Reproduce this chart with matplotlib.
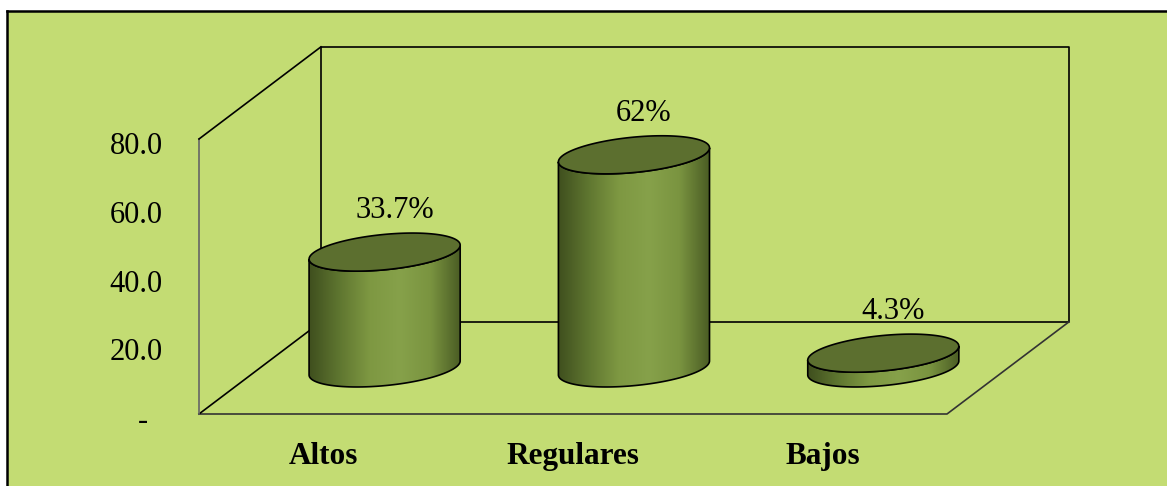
import numpy as np
import matplotlib.pyplot as plt
import matplotlib.transforms as mtransforms
from matplotlib.patches import Polygon, Rectangle
from matplotlib.lines import Line2D
from matplotlib.colors import LinearSegmentedColormap

plt.rcParams['font.family'] = ['Liberation Serif', 'DejaVu Serif']

# -------- Data --------
categories = ["Altos", "Regulares", "Bajos"]
values = [33.7, 62.0, 4.3]
value_labels = ["33.7%", "62%", "4.3%"]
ytick_values = [0, 20, 40, 60, 80]
ytick_labels = ["-  ", "20.0", "40.0", "60.0", "80.0"]

# -------- Style --------
bg = "#c3dc73"
top_color = "#5c6f2f"
side_cmap = LinearSegmentedColormap.from_list(
    "olive", ["#3f4f1e", "#5f7630", "#7e9842", "#86a14a", "#7a9440", "#4a5c24"])
DX, DY = 0.489, 26.8          # depth of the 3d box (category units, value units)
HALF_W = 0.303                # cylinder half width
ELL_B, ELL_C = 5.15, 2.04     # ellipse half height and tilt

W, H = 1167, 486
fig = plt.figure(figsize=(W / 100, H / 100), dpi=100, facecolor="white")

# green panel with border on top/left
fig.patches.append(Rectangle((7 / W, 0), 1 - 7 / W, 1 - 11 / H, transform=fig.transFigure,
                             facecolor=bg, edgecolor="none", zorder=-2))
fig.lines.append(Line2D([7 / W, 7 / W], [0, 1 - 11 / H], transform=fig.transFigure,
                        color="black", lw=1.8, zorder=-1))
fig.lines.append(Line2D([7 / W, 1], [1 - 11 / H, 1 - 11 / H], transform=fig.transFigure,
                        color="black", lw=1.8, zorder=-1))

ax = fig.add_axes([199 / W, 72 / H, 748 / W, 275 / H])
ax.set_zorder(1)
ax.set_facecolor("none")
for s in ax.spines.values():
    s.set_visible(False)

x0, x1 = -0.5, len(categories) - 0.5
ymax = ytick_values[-1]


def box_line(xs, ys, color="black", lw=1.2):
    ax.plot(xs, ys, color=color, lw=lw, clip_on=False, zorder=1, solid_capstyle="projecting")


# back wall
box_line([x0 + DX, x1 + DX, x1 + DX, x0 + DX, x0 + DX],
         [DY, DY, ymax + DY, ymax + DY, DY])
# floor
box_line([x0, x1, x1 + DX], [0, 0, DY], color="#333333")
box_line([x0, x0 + DX], [0, DY])
# left wall
box_line([x0, x0], [0, ymax], color="#666666")
box_line([x0, x0 + DX], [ymax, ymax + DY])

t_front = np.linspace(np.pi, 2 * np.pi, 100)
t_all = np.linspace(0, 2 * np.pi, 200)


def ellipse(cx, cy, t):
    return cx + HALF_W * np.cos(t), cy + ELL_B * np.sin(t) + ELL_C * np.cos(t)


for i, (v, lab) in enumerate(zip(values, value_labels)):
    cx = i + DX / 2
    y_base = DY / 2
    y_top = y_base + v

    tx, ty = ellipse(cx, y_top, t_front)
    bx, by = ellipse(cx, y_base, t_front[::-1])
    body = Polygon(np.column_stack([np.r_[tx, bx], np.r_[ty, by]]),
                   closed=True, facecolor="none", edgecolor="black", lw=1.2,
                   clip_on=False, zorder=3)
    ax.add_patch(body)
    grad = ax.imshow(np.linspace(0, 1, 256)[None, :], cmap=side_cmap, aspect="auto",
                     extent=[cx - HALF_W, cx + HALF_W, y_base - ELL_B - ELL_C,
                             y_top + ELL_B + ELL_C],
                     zorder=2, interpolation="bilinear")
    grad.set_clip_box(fig.bbox)
    grad.set_clip_path(body)

    ex, ey = ellipse(cx, y_top, t_all)
    ax.add_patch(Polygon(np.column_stack([ex, ey]), closed=True, facecolor=top_color,
                         edgecolor="black", lw=1.2, clip_on=False, zorder=4))

    ax.annotate(lab, (cx, y_top), xytext=(7, 30), textcoords="offset points",
                ha="center", va="center", fontsize=22, annotation_clip=False)

ax.set_xlim(x0, x1)
ax.set_ylim(0, ymax)

ax.set_yticks(ytick_values)
ax.set_yticklabels(ytick_labels, fontsize=22)
ax.set_xticks(range(len(categories)))
ax.set_xticklabels(categories, fontsize=22.5, fontweight="bold")
ax.tick_params(axis="y", length=0, pad=26)
ax.tick_params(axis="x", length=0, pad=20)

# y labels sit a little below their gridline value
shift = mtransforms.ScaledTranslation(0, -4 / 100, fig.dpi_scale_trans)
for t in ax.get_yticklabels():
    t.set_transform(t.get_transform() + shift)

plt.savefig("out.png", dpi=100, facecolor="white")
